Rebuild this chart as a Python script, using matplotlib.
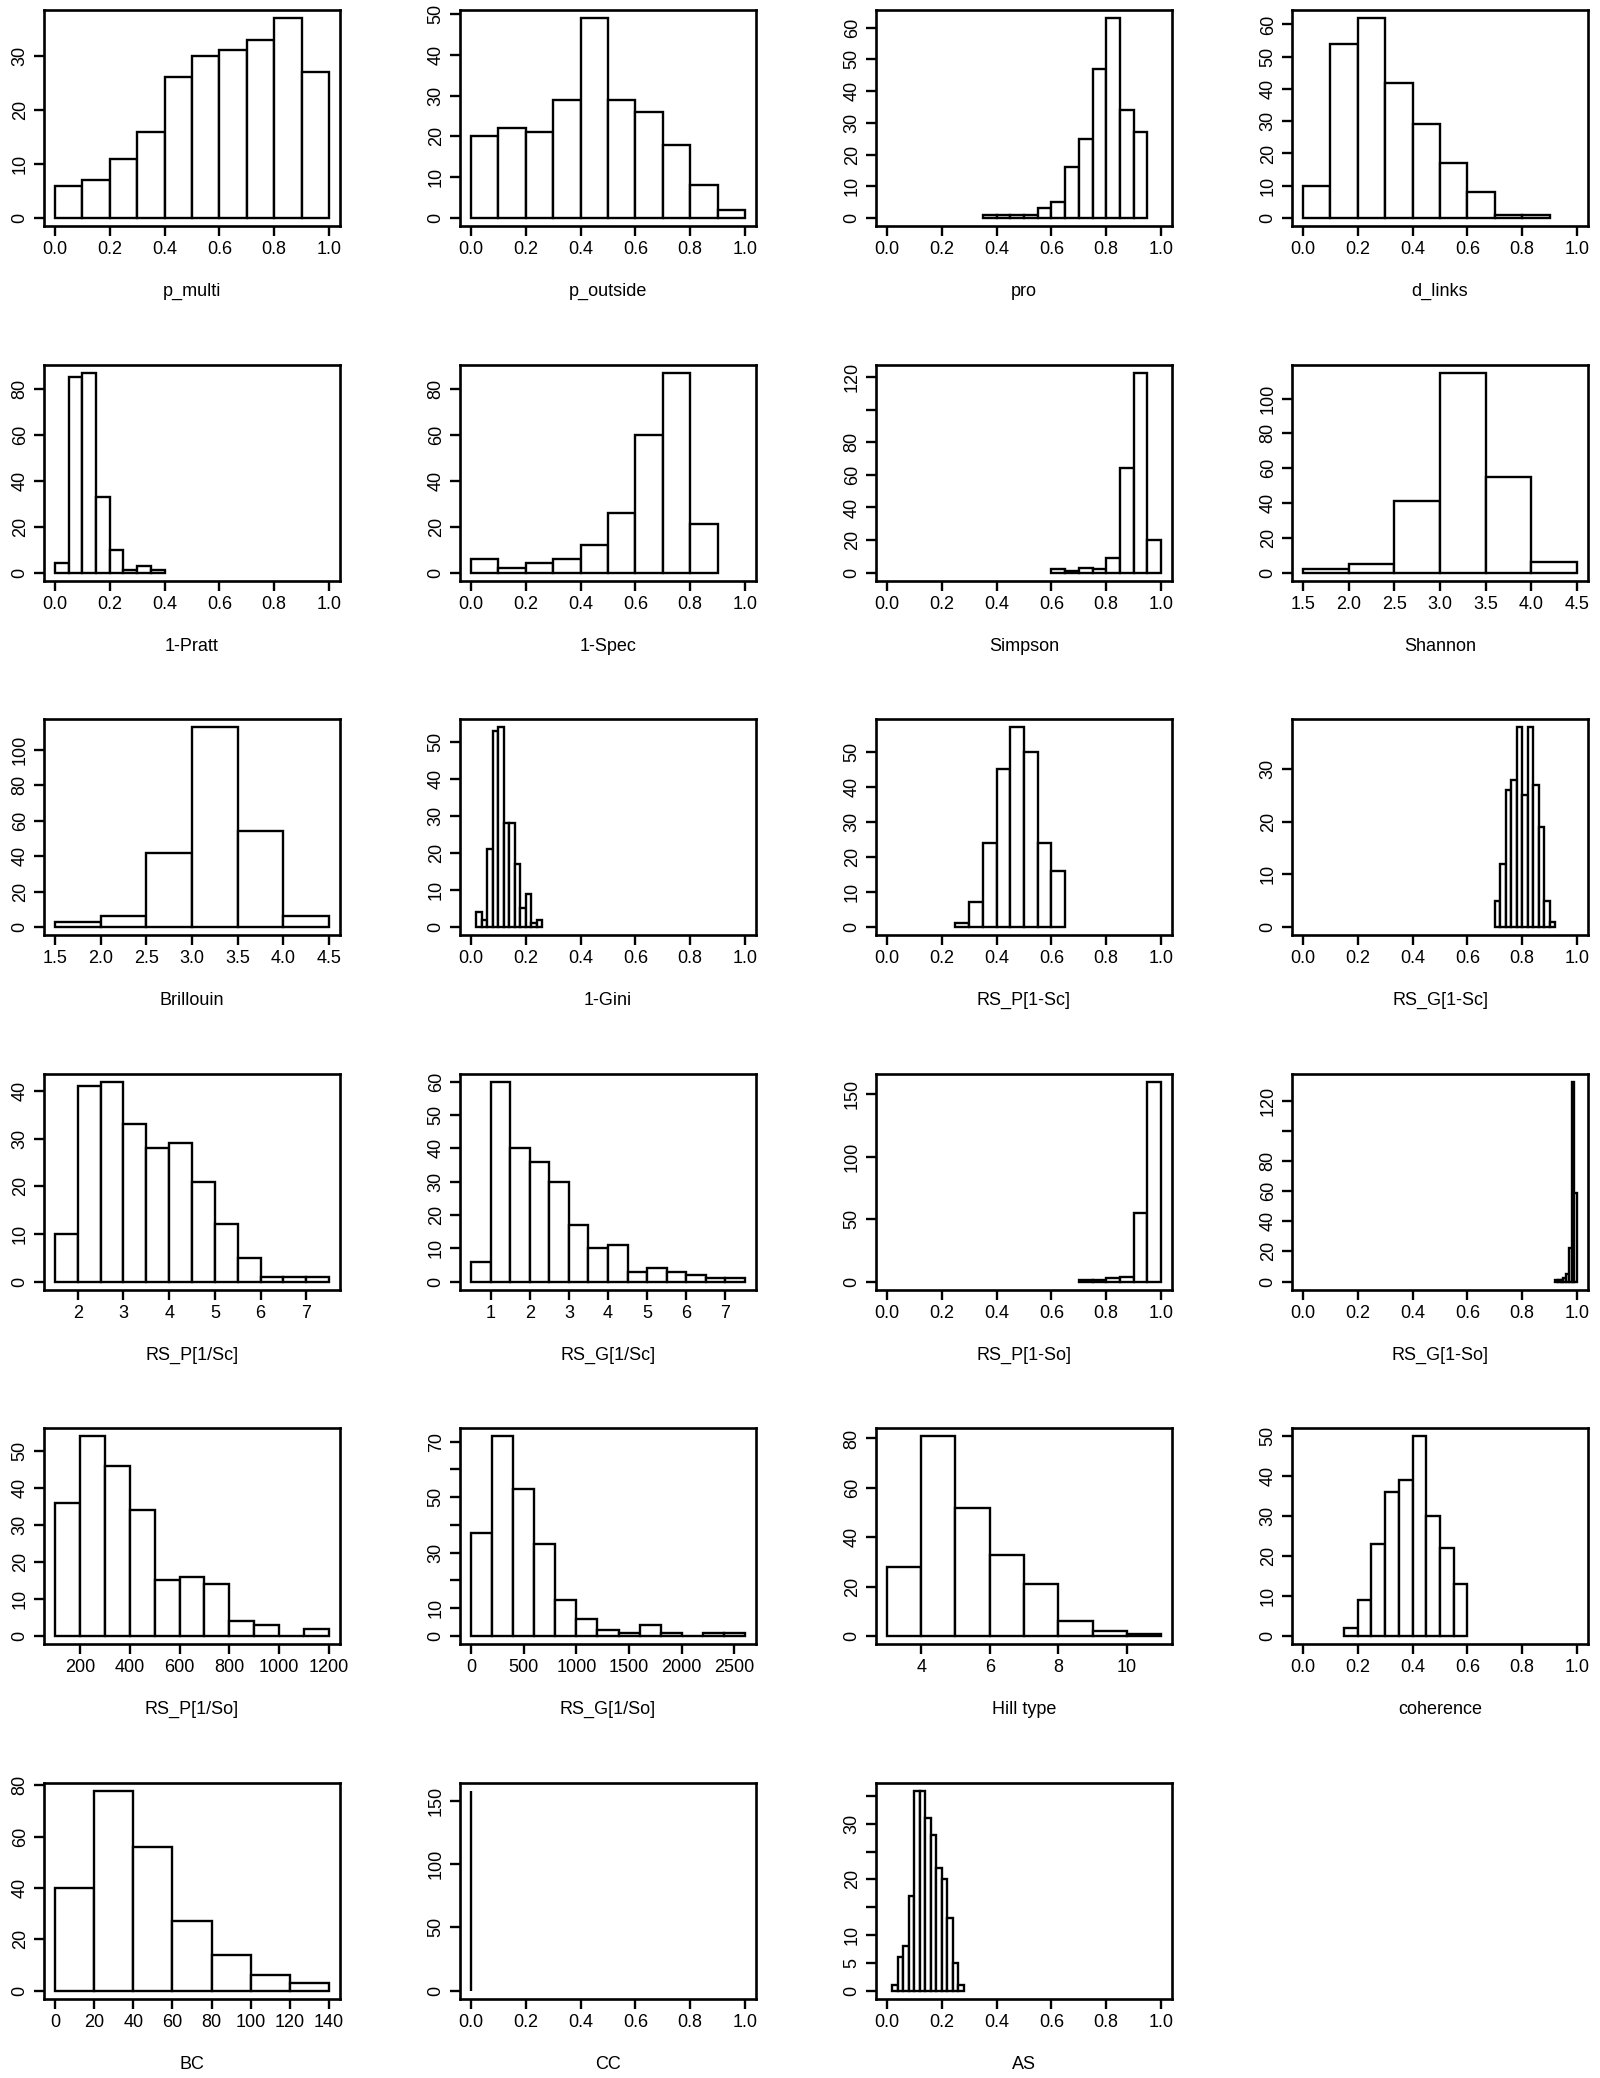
import numpy as np
import matplotlib.pyplot as plt

plt.rcParams['font.family'] = ['Liberation Sans Narrow', 'Liberation Sans', 'DejaVu Sans']

# bin edges and counts (224 values per variable)
p_multi_breaks = [0.0, 0.1, 0.2, 0.3, 0.4, 0.5, 0.6, 0.7, 0.8, 0.9, 1.0]
p_multi_counts = [6, 7, 11, 16, 26, 30, 31, 33, 37, 27]

p_outside_breaks = [0.0, 0.1, 0.2, 0.3, 0.4, 0.5, 0.6, 0.7, 0.8, 0.9, 1.0]
p_outside_counts = [20, 22, 21, 29, 49, 29, 26, 18, 8, 2]

pro_breaks = [0.35, 0.40, 0.45, 0.50, 0.55, 0.60, 0.65, 0.70, 0.75, 0.80, 0.85, 0.90, 0.95]
pro_counts = [1, 1, 1, 1, 3, 5, 16, 25, 47, 63, 34, 27]

d_links_breaks = [0.0, 0.1, 0.2, 0.3, 0.4, 0.5, 0.6, 0.7, 0.8, 0.9]
d_links_counts = [10, 54, 62, 42, 29, 17, 8, 1, 1]

pratt_breaks = [0.0, 0.05, 0.10, 0.15, 0.20, 0.25, 0.30, 0.35, 0.40]
pratt_counts = [4, 85, 87, 33, 10, 1, 3, 1]

spec_breaks = [0.0, 0.1, 0.2, 0.3, 0.4, 0.5, 0.6, 0.7, 0.8, 0.9]
spec_counts = [6, 2, 4, 6, 12, 26, 60, 87, 21]

simpson_breaks = [0.60, 0.65, 0.70, 0.75, 0.80, 0.85, 0.90, 0.95, 1.00]
simpson_counts = [2, 1, 3, 2, 9, 64, 123, 20]

shannon_breaks = [1.5, 2.0, 2.5, 3.0, 3.5, 4.0, 4.5]
shannon_counts = [2, 5, 41, 115, 55, 6]

brillouin_breaks = [1.5, 2.0, 2.5, 3.0, 3.5, 4.0, 4.5]
brillouin_counts = [3, 6, 42, 113, 54, 6]

gini_breaks = [0.02, 0.04, 0.06, 0.08, 0.10, 0.12, 0.14, 0.16, 0.18, 0.20, 0.22, 0.24, 0.26]
gini_counts = [4, 2, 21, 53, 54, 28, 28, 17, 5, 9, 1, 2]

rsp_1sc_breaks = [0.25, 0.30, 0.35, 0.40, 0.45, 0.50, 0.55, 0.60, 0.65]
rsp_1sc_counts = [1, 7, 24, 45, 57, 50, 24, 16]

rsg_1sc_breaks = [0.70, 0.72, 0.74, 0.76, 0.78, 0.80, 0.82, 0.84, 0.86, 0.88, 0.90, 0.92]
rsg_1sc_counts = [5, 12, 26, 28, 38, 25, 38, 27, 19, 5, 1]

rsp_inv_sc_breaks = [1.5, 2.0, 2.5, 3.0, 3.5, 4.0, 4.5, 5.0, 5.5, 6.0, 6.5, 7.0, 7.5]
rsp_inv_sc_counts = [10, 41, 42, 33, 28, 29, 21, 12, 5, 1, 1, 1]

rsg_inv_sc_breaks = [0.5, 1.0, 1.5, 2.0, 2.5, 3.0, 3.5, 4.0, 4.5, 5.0, 5.5, 6.0, 6.5, 7.0, 7.5]
rsg_inv_sc_counts = [6, 60, 40, 36, 30, 17, 10, 11, 3, 4, 3, 2, 1, 1]

rsp_1so_breaks = [0.70, 0.75, 0.80, 0.85, 0.90, 0.95, 1.00]
rsp_1so_counts = [1, 1, 3, 4, 55, 160]

rsg_1so_breaks = [0.92, 0.93, 0.94, 0.95, 0.96, 0.97, 0.98, 0.99, 1.00]
rsg_1so_counts = [1, 1, 1, 2, 5, 22, 133, 59]

rsp_inv_so_breaks = [100, 200, 300, 400, 500, 600, 700, 800, 900, 1000, 1100, 1200]
rsp_inv_so_counts = [36, 54, 46, 34, 15, 16, 14, 4, 3, 0, 2]

rsg_inv_so_breaks = [0, 200, 400, 600, 800, 1000, 1200, 1400, 1600, 1800, 2000, 2200, 2400, 2600]
rsg_inv_so_counts = [37, 72, 53, 33, 13, 6, 2, 1, 4, 1, 0, 1, 1]

hill_breaks = [3, 4, 5, 6, 7, 8, 9, 10, 11]
hill_counts = [28, 81, 52, 33, 21, 6, 2, 1]

coherence_breaks = [0.15, 0.20, 0.25, 0.30, 0.35, 0.40, 0.45, 0.50, 0.55, 0.60]
coherence_counts = [2, 9, 23, 36, 39, 50, 30, 22, 13]

bc_breaks = [0, 20, 40, 60, 80, 100, 120, 140]
bc_counts = [40, 78, 56, 27, 14, 6, 3]

cc_breaks = [0.0, 0.001]
cc_counts = [158]

as_breaks = [0.02, 0.04, 0.06, 0.08, 0.10, 0.12, 0.14, 0.16, 0.18, 0.20, 0.22, 0.24, 0.26, 0.28]
as_counts = [1, 6, 8, 17, 36, 36, 31, 28, 22, 20, 13, 5, 1]

# axis ticks
unit_ticks = [0.0, 0.2, 0.4, 0.6, 0.8, 1.0]
div_ticks = [1.5, 2.0, 2.5, 3.0, 3.5, 4.0, 4.5]
rsp_inv_sc_ticks = [2, 3, 4, 5, 6, 7]
rsg_inv_sc_ticks = [1, 2, 3, 4, 5, 6, 7]
rsp_inv_so_ticks = [200, 400, 600, 800, 1000, 1200]
rsg_inv_so_ticks = [0, 500, 1000, 1500, 2000, 2500]
hill_ticks = [4, 6, 8, 10]
bc_ticks = [0, 20, 40, 60, 80, 100, 120, 140]

# name, breaks, counts, xlim, xticks, xfmt, ystep, y labels left out
panels = [
    ("p_multi", p_multi_breaks, p_multi_counts, (0, 1), unit_ticks, "%.1f", 10, []),
    ("p_outside", p_outside_breaks, p_outside_counts, (0, 1), unit_ticks, "%.1f", 10, []),
    ("pro", pro_breaks, pro_counts, (0, 1), unit_ticks, "%.1f", 10, []),
    ("d_links", d_links_breaks, d_links_counts, (0, 1), unit_ticks, "%.1f", 10, []),
    ("1-Pratt", pratt_breaks, pratt_counts, (0, 1), unit_ticks, "%.1f", 20, []),
    ("1-Spec", spec_breaks, spec_counts, (0, 1), unit_ticks, "%.1f", 20, []),
    ("Simpson", simpson_breaks, simpson_counts, (0, 1), unit_ticks, "%.1f", 20, [100]),
    ("Shannon", shannon_breaks, shannon_counts, (1.5, 4.5), div_ticks, "%.1f", 20, []),
    ("Brillouin", brillouin_breaks, brillouin_counts, (1.5, 4.5), div_ticks, "%.1f", 20, []),
    ("1-Gini", gini_breaks, gini_counts, (0, 1), unit_ticks, "%.1f", 10, []),
    ("RS_P[1-Sc]", rsp_1sc_breaks, rsp_1sc_counts, (0, 1), unit_ticks, "%.1f", 10, []),
    ("RS_G[1-Sc]", rsg_1sc_breaks, rsg_1sc_counts, (0, 1), unit_ticks, "%.1f", 10, []),
    ("RS_P[1/Sc]", rsp_inv_sc_breaks, rsp_inv_sc_counts, (1.5, 7.5), rsp_inv_sc_ticks, "%d", 10, []),
    ("RS_G[1/Sc]", rsg_inv_sc_breaks, rsg_inv_sc_counts, (0.5, 7.5), rsg_inv_sc_ticks, "%d", 10, []),
    ("RS_P[1-So]", rsp_1so_breaks, rsp_1so_counts, (0, 1), unit_ticks, "%.1f", 50, []),
    ("RS_G[1-So]", rsg_1so_breaks, rsg_1so_counts, (0, 1), unit_ticks, "%.1f", 20, [100]),
    ("RS_P[1/So]", rsp_inv_so_breaks, rsp_inv_so_counts, (100, 1200), rsp_inv_so_ticks, "%d", 10, []),
    ("RS_G[1/So]", rsg_inv_so_breaks, rsg_inv_so_counts, (0, 2600), rsg_inv_so_ticks, "%d", 10, [20, 40, 60]),
    ("Hill type", hill_breaks, hill_counts, (3, 11), hill_ticks, "%d", 20, []),
    ("coherence", coherence_breaks, coherence_counts, (0, 1), unit_ticks, "%.1f", 10, []),
    ("BC", bc_breaks, bc_counts, (0, 140), bc_ticks, "%d", 20, []),
    ("CC", cc_breaks, cc_counts, (0, 1), unit_ticks, "%.1f", 50, []),
    ("AS", as_breaks, as_counts, (0, 1), unit_ticks, "%.1f", 5, [15, 25, 35]),
]

W, H = 1600, 2078
fig = plt.figure(figsize=(16, 20.78), dpi=100)

for i, (name, br, ct, xlim, xt, xfmt, ystep, skip) in enumerate(panels):
    r, c = divmod(i, 4)
    left = 44 + 416 * c
    top = 10 + 354.5 * r
    ax = fig.add_axes([left / W, 1 - (top + 216) / H, 296 / W, 216 / H])

    br = np.asarray(br, dtype=float)
    ct = np.asarray(ct)
    ax.bar(br[:-1], ct, width=np.diff(br), align='edge',
           color='white', edgecolor='black', linewidth=1.7)

    # R style: 4% padding on both axes
    x0, x1 = xlim
    pad = 0.04 * (x1 - x0)
    ax.set_xlim(x0 - pad, x1 + pad)
    ymax = ct.max()
    ax.set_ylim(-0.04 * ymax, 1.04 * ymax)

    ax.set_xticks(xt)
    ax.set_xticklabels([xfmt % v for v in xt])
    yt = np.arange(0, 1.04 * ymax + 0.001, ystep)
    ax.set_yticks(yt)
    ax.set_yticklabels(['' if v in skip else '%d' % v for v in yt],
                       rotation=90, va='center')

    ax.set_xlabel(name, fontsize=13, labelpad=18)
    for s in ax.spines.values():
        s.set_linewidth(1.9)
    ax.tick_params(direction='out', length=7, width=1.7, labelsize=13, pad=4)

plt.savefig("out.png", dpi=100)
